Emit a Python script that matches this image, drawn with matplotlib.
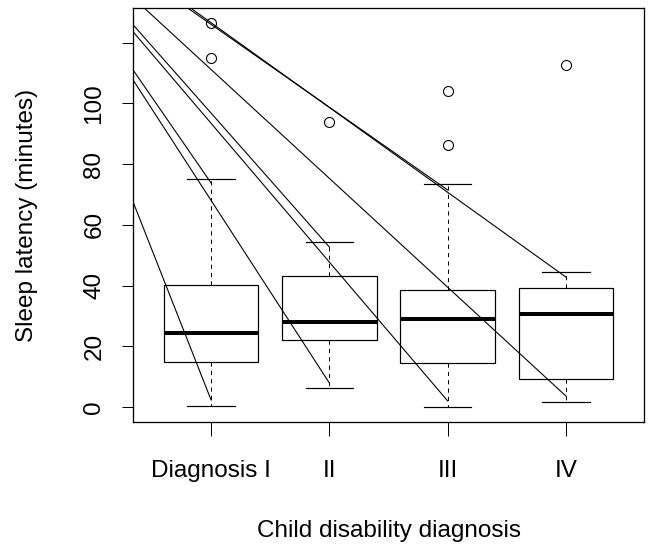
import matplotlib
matplotlib.use("Agg")
import matplotlib.pyplot as plt

plt.rcParams['font.family'] = ['Liberation Sans', 'DejaVu Sans']
plt.rcParams['lines.scale_dashes'] = False

# summary per diagnosis group (minutes)
groups = ["Diagnosis I", "II", "III", "IV"]
whisker_low = [0.4, 6.2, 0.1, 1.7]
q1 = [14.9, 22.1, 14.4, 9.2]
medians = [24.3, 28.1, 29.0, 30.6]
q3 = [40.2, 43.3, 38.5, 39.3]
whisker_high = [75.1, 54.5, 73.5, 44.6]
outliers = [[114.9, 126.4], [94.0], [86.4, 104.2], [112.7]]

# straight segments coming in from the upper left to the whisker ends
seg_x0 = [0.341, 0.341, 0.341, 0.341, 0.341, 0.789, 0.814, 0.425]
seg_y0 = [67.5, 111.0, 107.7, 125.9, 123.6, 131.8, 131.8, 131.8]
seg_x1 = [1, 1, 2, 2, 3, 3, 4, 4]
seg_y1 = [2.3, 73.8, 7.9, 52.7, 2.0, 71.5, 42.8, 3.6]

yticks = [0, 20, 40, 60, 80, 100, 120]
ytick_labels = ["0", "20", "40", "60", "80", "100", ""]

px = 0.72  # one pixel in points at 100 dpi
fs = 17.5

fig = plt.figure(figsize=(6.54, 5.56), dpi=100)
ax = fig.add_axes([0.2034, 0.241, 0.7813, 0.7446])

stats = []
for i, name in enumerate(groups):
    stats.append({
        "label": name,
        "whislo": whisker_low[i],
        "q1": q1[i],
        "med": medians[i],
        "q3": q3[i],
        "whishi": whisker_high[i],
        "fliers": outliers[i],
    })

ax.bxp(stats, positions=[1, 2, 3, 4], widths=0.8, capwidths=0.4,
       patch_artist=True,
       boxprops=dict(facecolor="white", edgecolor="black", linewidth=1.2 * px),
       medianprops=dict(color="black", linewidth=4 * px, solid_capstyle="butt"),
       whiskerprops=dict(color="black", linewidth=1 * px, linestyle=(0, (3, 3))),
       capprops=dict(color="black", linewidth=1.2 * px),
       flierprops=dict(marker="o", markerfacecolor="none", markeredgecolor="black",
                       markersize=7.2, markeredgewidth=1.1 * px))

for x0, y0, x1, y1 in zip(seg_x0, seg_y0, seg_x1, seg_y1):
    ax.plot([x0, x1], [y0, y1], color="black", linewidth=1.1 * px)

ax.set_xlim(0.34, 4.66)
ax.set_ylim(-4.95, 131.45)

ax.set_xticks([1, 2, 3, 4])
ax.set_xticklabels(groups, fontsize=fs)
ax.set_yticks(yticks)
ax.set_yticklabels(ytick_labels, fontsize=fs, rotation=90, va="center")
ax.tick_params(axis="x", length=14 * px, width=1 * px, pad=17)
ax.tick_params(axis="y", length=11 * px, width=1 * px, pad=12)

for sp in ax.spines.values():
    sp.set_linewidth(1.3 * px)

ax.set_xlabel("Child disability diagnosis", fontsize=fs)
ax.set_ylabel("Sleep latency (minutes)", fontsize=fs)
ax.xaxis.set_label_coords(0.5, -0.263)
ax.xaxis.label.set_va("center")
ax.yaxis.set_label_coords(-0.2074, 0.5)
ax.yaxis.label.set_va("center")

fig.savefig("out.png", dpi=100)
